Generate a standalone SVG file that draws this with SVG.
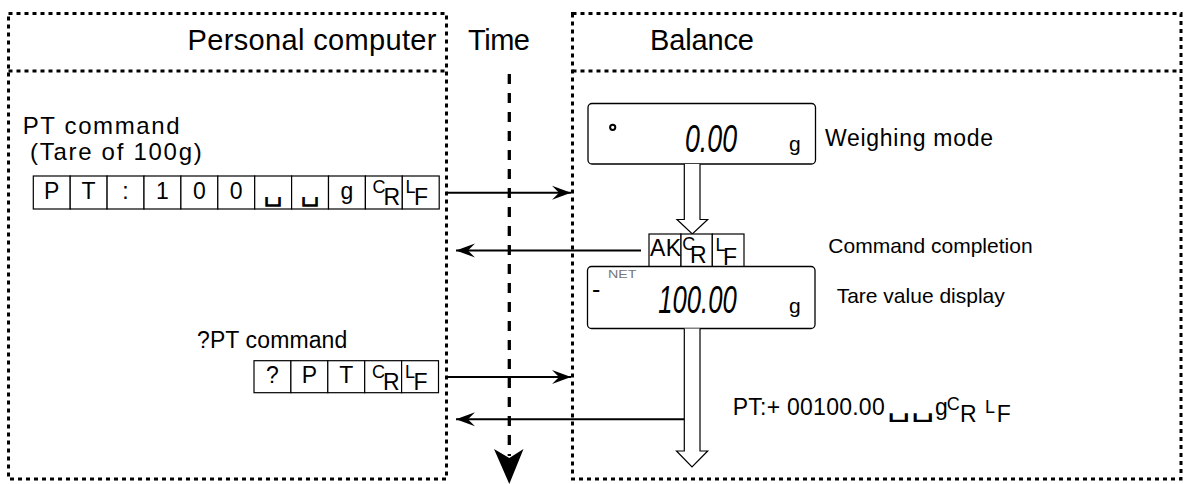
<svg xmlns="http://www.w3.org/2000/svg" width="1187" height="484" viewBox="0 0 1187 484">
<style>
text{font-family:"Liberation Sans",Arial,sans-serif;fill:#000}
.hdr{font-size:29px}
.body{font-size:23px}
.lbl{font-size:21px}
.cell{fill:#fff;stroke:#000;stroke-width:1.2}
.ct{font-size:23px;text-anchor:middle}
.sm{font-size:18px}
.frame{fill:none;stroke:#000;stroke-width:3;stroke-dasharray:4 4}
.conn{fill:none;stroke:#000;stroke-width:2}
.disp{fill:#fff;stroke:#000;stroke-width:1.3}
.seg{font-family:"Liberation Sans",Arial,sans-serif;font-style:italic;font-size:38px}
.blk{fill:#fff;stroke:#000;stroke-width:1.2}
.sp{font-family:"DejaVu Sans",sans-serif;font-weight:200}
</style>
<defs>
<marker id="ah" markerUnits="userSpaceOnUse" viewBox="-20 -8 21 16" markerWidth="21" markerHeight="16" refX="0" refY="0" orient="auto">
<path d="M0,0 L-19,-7 L-12,0 L-19,7 Z" fill="#000"/>
</marker>
</defs>

<g id="frame-pc">
<path class="frame" d="M8.5,13.5 H446.5 V479 H8.5 Z"/>
<path class="frame" d="M8.5,71 H446.5"/>
<text class="hdr" x="187.5" y="50" textLength="249">Personal computer</text>
</g>

<g id="frame-balance">
<path class="frame" d="M572.5,13.5 H1181 V479 H572.5 Z"/>
<path class="frame" d="M572.5,71 H1181"/>
<text class="hdr" x="650" y="50" textLength="104">Balance</text>
</g>

<g id="time-axis">
<text class="hdr" x="468" y="50" textLength="62">Time</text>
<path d="M509.3,74 V456" fill="none" stroke="#000" stroke-width="3.3" stroke-dasharray="10 9"/>
<path d="M509.3,484 L494,449 L509.3,458 L523.5,449 Z" fill="#000"/>
</g>

<g id="pt-command">
<text class="body" x="22.7" y="134" style="font-size:24px" textLength="157">PT command</text>
<text class="body" x="30" y="159.5" style="font-size:24px" textLength="171.7">(Tare of 100g)</text>
<rect class="cell" x="33.3" y="176" width="36.9" height="33"/>
<rect class="cell" x="70.2" y="176" width="36.9" height="33"/>
<rect class="cell" x="107.1" y="176" width="36.9" height="33"/>
<rect class="cell" x="144" y="176" width="36.9" height="33"/>
<rect class="cell" x="180.9" y="176" width="36.9" height="33"/>
<rect class="cell" x="217.8" y="176" width="36.9" height="33"/>
<rect class="cell" x="254.7" y="176" width="36.9" height="33"/>
<rect class="cell" x="291.6" y="176" width="36.9" height="33"/>
<rect class="cell" x="328.5" y="176" width="36.9" height="33" stroke-width="1.6"/>
<rect class="cell" x="365.4" y="176" width="36.9" height="33" stroke-width="1.6"/>
<rect class="cell" x="402.3" y="176" width="36.9" height="33" stroke-width="1.6"/>
<text class="ct" x="51.75" y="198.5">P</text>
<text class="ct" x="88.65" y="198.5">T</text>
<text class="ct" x="125.55" y="198.5">:</text>
<text class="ct" x="162.45" y="198.5">1</text>
<text class="ct" x="199.35" y="198.5">0</text>
<text class="ct" x="236.25" y="198.5">0</text>
<text class="sp" x="263" y="199.5" font-size="30" textLength="20" lengthAdjust="spacingAndGlyphs">␣</text>
<text class="sp" x="300" y="199.5" font-size="30" textLength="20" lengthAdjust="spacingAndGlyphs">␣</text>
<text class="ct" x="346.95" y="198.5">g</text>
<text class="sm" x="372.5" y="193">C</text>
<text class="body" x="383.5" y="205">R</text>
<text class="sm" x="405.5" y="193">L</text>
<text class="body" x="414" y="205">F</text>
</g>

<g id="qpt-command">
<text class="body" x="197" y="348.3" textLength="150.3">?PT command</text>
<rect class="cell" x="254" y="360.7" width="36.9" height="32"/>
<rect class="cell" x="290.9" y="360.7" width="36.9" height="32"/>
<rect class="cell" x="327.8" y="360.7" width="36.9" height="32"/>
<rect class="cell" x="364.7" y="360.7" width="36.9" height="32" stroke-width="1.6"/>
<rect class="cell" x="401.6" y="360.7" width="36.9" height="32" stroke-width="1.6"/>
<text class="ct" x="272.45" y="383">?</text>
<text class="ct" x="309.35" y="383">P</text>
<text class="ct" x="346.25" y="383">T</text>
<text class="sm" x="372" y="377.5">C</text>
<text class="body" x="383" y="389.5">R</text>
<text class="sm" x="405" y="377.5">L</text>
<text class="body" x="413.5" y="389.5">F</text>
</g>

<g id="display-weighing">
<rect class="disp" x="588" y="103.5" width="227.5" height="60.5" rx="4"/>
<circle cx="612.7" cy="127.3" r="2.6" fill="none" stroke="#000" stroke-width="2"/>
<text class="seg" x="685" y="151.5" textLength="52" lengthAdjust="spacingAndGlyphs">0.00</text>
<text x="789" y="151" font-size="21">g</text>
<text x="825" y="146" font-size="23" textLength="168">Weighing mode</text>
</g>

<g id="arrow-down-1">
<path class="blk" d="M684.3,164 V219.5 H677 L692.3,234 L707.7,219.5 H700 V164"/>
</g>

<g id="ack">
<rect class="cell" x="649" y="234" width="32" height="32.7" stroke="#333"/>
<rect class="cell" x="681" y="234" width="31.3" height="32.7" stroke="#333"/>
<rect class="cell" x="712.3" y="234" width="31.7" height="32.7" stroke="#333"/>
<text class="body" x="650" y="256" textLength="31">AK</text>
<text class="sm" x="682.3" y="250">C</text>
<text class="body" x="690" y="263">R</text>
<text class="sm" x="715.5" y="251">L</text>
<text class="body" x="723" y="264.5">F</text>
<text class="lbl" x="828.3" y="253.3">Command completion</text>
</g>

<g id="display-tare">
<rect class="disp" x="587.5" y="266.5" width="227.5" height="62" rx="4"/>
<text x="608" y="278" font-size="11.5" fill="#777" style="fill:#777" textLength="28.5" lengthAdjust="spacingAndGlyphs">NET</text>
<text x="592" y="298" font-size="25">-</text>
<text class="seg" x="658.3" y="313.3" textLength="78.4" lengthAdjust="spacingAndGlyphs">100.00</text>
<text x="789" y="313" font-size="21">g</text>
<text class="lbl" x="836.7" y="303.3">Tare value display</text>
</g>

<g id="arrow-down-2">
<path class="blk" d="M684.3,328.5 V451 H676.5 L692,467 L707.7,451 H700 V328.5"/>
</g>

<g id="response">
<text class="body" x="732.7" y="415" textLength="152">PT:+ 00100.00</text>
<text class="sp" x="886.7" y="415.5" font-size="26" textLength="48.3" lengthAdjust="spacingAndGlyphs">␣␣</text>
<text class="body" x="935" y="415">g</text>
<text class="sm" x="946.7" y="410">C</text>
<text class="body" x="960" y="421.7">R</text>
<text class="sm" x="985" y="413.3">L</text>
<text class="body" x="996.7" y="421.7">F</text>
</g>

<g id="connectors">
<path class="conn" d="M447,192.7 H571" marker-end="url(#ah)"/>
<path class="conn" d="M641,250.5 H456" marker-end="url(#ah)"/>
<path class="conn" d="M447,377 H571" marker-end="url(#ah)"/>
<path class="conn" d="M684,419.3 H456" marker-end="url(#ah)"/>
</g>
</svg>
